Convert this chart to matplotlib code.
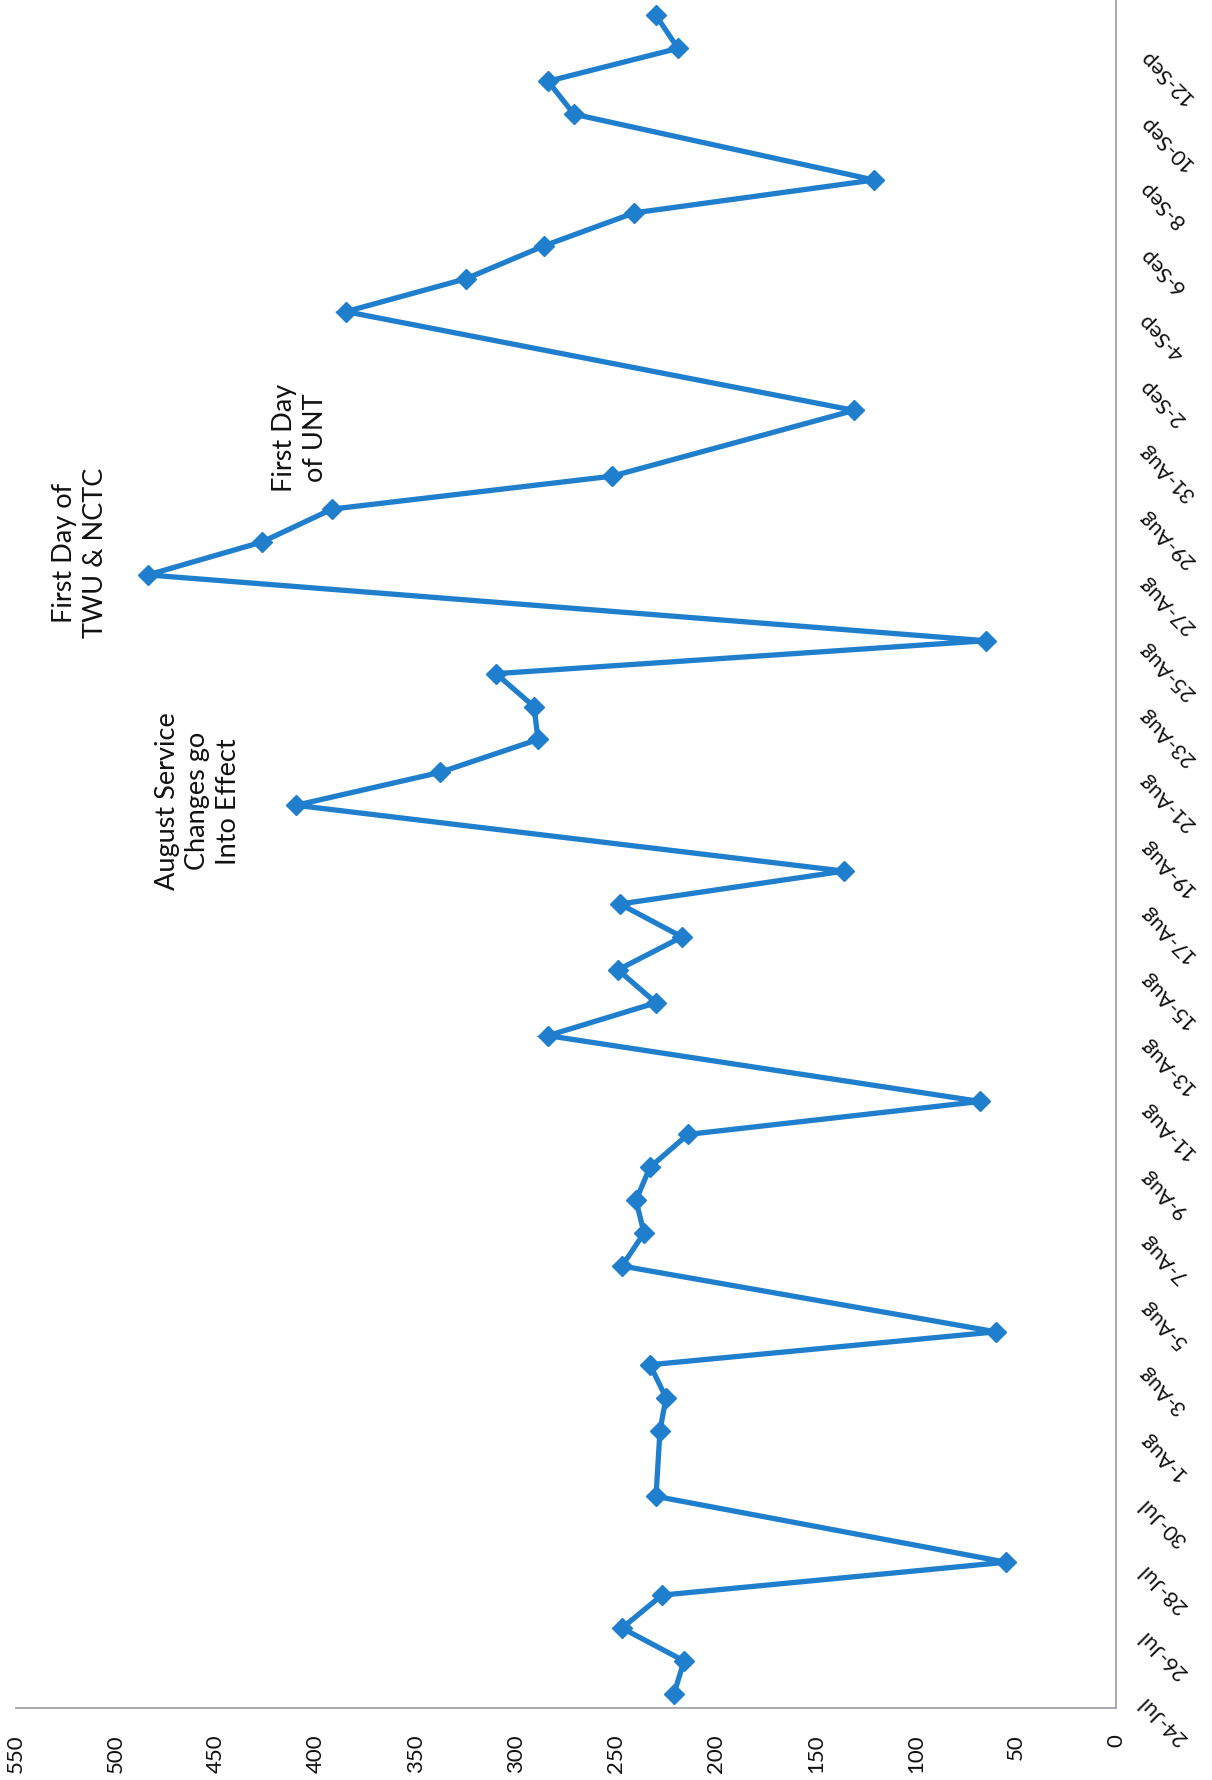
import datetime as dt
import matplotlib
matplotlib.use("Agg")
import matplotlib.pyplot as plt
import matplotlib.dates as mdates

# Daily ridership, summer into fall term
dates = [
    "2018-07-24", "2018-07-25", "2018-07-26", "2018-07-27", "2018-07-28",
    "2018-07-30", "2018-08-01", "2018-08-02", "2018-08-03", "2018-08-04",
    "2018-08-06", "2018-08-07", "2018-08-08", "2018-08-09", "2018-08-10",
    "2018-08-11", "2018-08-13", "2018-08-14", "2018-08-15", "2018-08-16",
    "2018-08-17", "2018-08-18", "2018-08-20", "2018-08-21", "2018-08-22",
    "2018-08-23", "2018-08-24", "2018-08-25", "2018-08-27", "2018-08-28",
    "2018-08-29", "2018-08-30", "2018-09-01", "2018-09-04", "2018-09-05",
    "2018-09-06", "2018-09-07", "2018-09-08", "2018-09-10", "2018-09-11",
    "2018-09-12", "2018-09-13",
]
riders = [
    221, 216, 247, 227, 55,
    230, 228, 225, 233, 60,
    247, 236, 240, 233, 214,
    68, 284, 230, 249, 217,
    248, 136, 410, 338, 289,
    291, 310, 65, 484, 427,
    392, 252, 131, 385, 325,
    286, 241, 121, 271, 284,
    219, 230,
]
value_ticks = [0, 50, 100, 150, 200, 250, 300, 350, 400, 450, 500, 550]
label_start = "2018-07-24"
label_end = "2018-09-12"

notes = [
    ("August Service\nChanges go\nInto Effect", 459, "2018-08-20", 0.15),
    ("First Day of\nTWU & NCTC", 518, "2018-08-27", 0.7),
    ("First Day\nof UNT", 408, "2018-08-31", 0.2),
]

plt.rcParams["font.family"] = ["Lato", "DejaVu Sans"]

day = [mdates.date2num(dt.date.fromisoformat(d)) for d in dates]

W, H, DPI = 1212, 1781, 100
fig = plt.figure(figsize=(W / DPI, H / DPI), dpi=DPI)
ax = fig.add_axes([16 / W, (H - 1709) / H, 1100 / W, 1709 / H])

blue = "#1f7fcd"
ax.plot(riders, day, color=blue, lw=3.8, marker="D", ms=10,
        markeredgecolor=blue, solid_joinstyle="miter", zorder=3)

first = mdates.date2num(dt.date.fromisoformat(dates[0]))
last = mdates.date2num(dt.date.fromisoformat(dates[-1]))
ax.set_xlim(550, 0)
ax.set_ylim(first - 0.43, last + 0.5)

# value axis along the bottom, rotated labels
ax.set_xticks(value_ticks)
ax.set_xticklabels([str(v) for v in value_ticks], rotation=90,
                   fontsize=16, color="#111111")
ax.tick_params(axis="x", length=0, pad=18)

# date axis on the right, every second day
t0 = dt.date.fromisoformat(label_start)
t1 = dt.date.fromisoformat(label_end)
tick_days = []
d = t0
while d <= t1:
    tick_days.append(d)
    d += dt.timedelta(days=2)
ax.yaxis.tick_right()
ax.set_yticks([mdates.date2num(x) for x in tick_days])
ax.set_yticklabels([f"{x.day}-{x:%b}" for x in tick_days], rotation=135,
                   rotation_mode="anchor", ha="right", va="baseline",
                   fontsize=15.5, color="#111111")
ax.tick_params(axis="y", length=0, pad=22)

for side in ("top", "left"):
    ax.spines[side].set_visible(False)
for side in ("bottom", "right"):
    ax.spines[side].set_color("#a3a3ab")
    ax.spines[side].set_linewidth(1.3)

for text, xval, dstr, off in notes:
    yv = mdates.date2num(dt.date.fromisoformat(dstr)) + off
    ax.text(xval, yv, text, rotation=90, ha="center", va="center",
            multialignment="center", fontsize=19.5, linespacing=1.3,
            color="#111111")

fig.savefig("out.png", dpi=DPI, facecolor="white")
